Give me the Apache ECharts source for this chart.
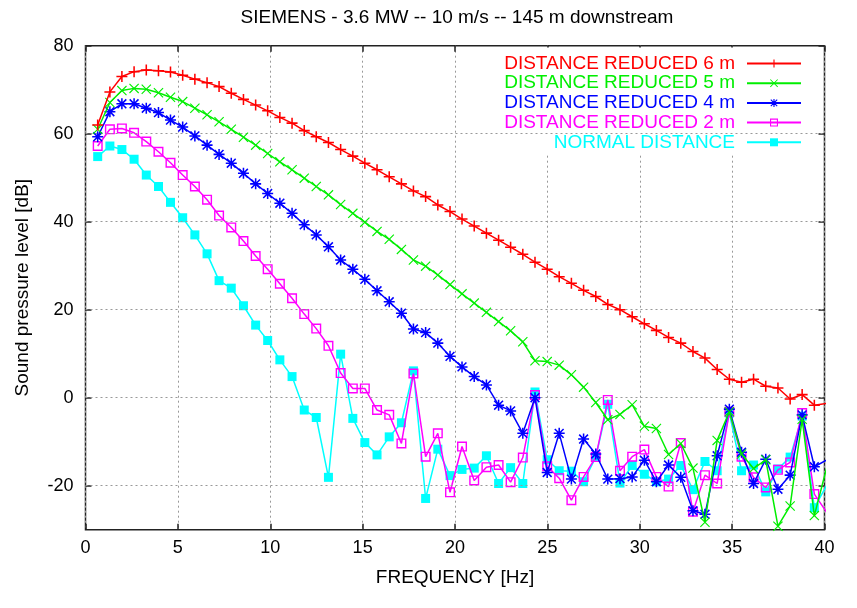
<!DOCTYPE html>
<html>
<head>
<meta charset="utf-8">
<script src="https://cdn.jsdelivr.net/npm/echarts@6/dist/echarts.min.js"></script>
<style>
html,body{margin:0;padding:0;background:#fff;}
#chart{width:857px;height:608px;}
</style>
</head>
<body>
<div id="chart"></div>
<script>
// Frequency bins [Hz]
const freq = [0.66,1.32,1.97,2.63,3.29,3.95,4.60,5.26,5.92,6.58,7.23,7.89,8.55,9.21,9.86,
  10.52,11.18,11.84,12.49,13.15,13.81,14.47,15.12,15.78,16.44,17.10,17.75,18.41,19.07,19.73,
  20.38,21.04,21.70,22.36,23.01,23.67,24.33,24.99,25.64,26.30,26.96,27.62,28.27,28.93,29.59,
  30.25,30.90,31.56,32.22,32.88,33.53,34.19,34.85,35.51,36.16,36.82,37.48,38.14,38.79,39.45,40.11];

const seriesNames = ['DISTANCE REDUCED 6 m','DISTANCE REDUCED 5 m','DISTANCE REDUCED 4 m','DISTANCE REDUCED 2 m','NORMAL DISTANCE'];

const reduced6m = [62.0,69.5,73.0,74.1,74.5,74.3,74.0,73.3,72.4,71.6,70.7,69.2,67.8,66.5,65.2,
  63.7,62.4,60.7,59.3,58.0,56.4,54.9,53.3,51.8,50.2,48.6,47.0,45.7,43.8,42.3,
  40.6,39.0,37.4,35.8,34.2,32.6,30.8,29.2,27.5,26.0,24.4,23.0,21.2,20.0,18.4,
  16.8,15.3,13.7,12.4,10.5,9.0,6.4,4.2,3.5,4.2,2.6,2.2,-0.3,0.7,-1.7,-1.3];

const reduced5m = [61.0,67.1,69.8,70.3,70.1,69.3,68.3,67.3,65.8,64.3,62.7,61.0,59.2,57.4,55.5,
  53.6,51.8,49.9,48.0,46.1,43.9,41.9,39.9,37.8,36.0,33.7,31.3,29.9,27.9,25.7,
  23.6,21.5,19.4,17.3,15.2,12.7,8.4,8.2,7.4,5.2,2.4,-1.1,-5.0,-3.8,-1.6,
  -6.5,-7.0,-12.9,-10.4,-16.0,-28.3,-9.7,-3.2,-12.8,-16.1,-14.1,-29.2,-24.6,-4.9,-26.8,-16.0];

const reduced4m = [59.3,65.0,66.8,66.8,65.8,64.8,63.1,61.5,59.5,57.4,55.3,53.3,51.0,48.6,46.4,
  44.2,41.9,39.3,37.0,34.3,31.3,29.2,26.9,24.3,21.8,19.2,15.6,14.8,12.4,9.4,
  7.0,4.8,2.9,-1.7,-3.0,-8.1,0.0,-17.0,-8.1,-18.5,-9.4,-12.8,-18.5,-18.4,-18.0,
  -14.2,-19.1,-15.3,-18.1,-25.7,-26.5,-13.2,-2.6,-12.4,-19.5,-14.0,-20.8,-17.6,-3.9,-15.7,-14.2];

const reduced2m = [57.2,61.0,61.2,60.2,58.2,55.9,53.4,50.6,48.0,45.0,41.4,38.7,35.6,32.2,29.2,
  25.9,22.6,19.0,15.7,11.8,5.6,2.1,2.1,-2.8,-3.9,-10.4,5.5,-13.4,-8.1,-21.5,
  -11.1,-18.8,-15.8,-15.3,-19.2,-13.6,0.6,-15.6,-18.3,-23.3,-18.0,-13.5,-0.5,-16.6,-13.4,
  -11.8,-18.0,-20.2,-10.3,-25.9,-17.6,-19.5,-3.2,-13.4,-18.1,-20.4,-16.4,-14.7,-3.5,-21.9,-26.0];

const normalDist = [54.8,57.2,56.4,54.2,50.6,48.0,44.4,40.9,37.0,32.7,26.6,24.9,20.9,16.5,13.0,
  8.6,4.8,-2.8,-4.5,-18.1,9.9,-4.7,-10.2,-13.0,-8.9,-5.7,6.1,-22.9,-11.7,-17.7,
  -16.3,-16.0,-13.2,-19.5,-15.9,-19.5,1.3,-14.1,-16.6,-16.7,-19.1,-13.5,-1.5,-19.4,-15.4,
  -17.4,-19.1,-18.5,-15.4,-20.9,-14.5,-16.6,-3.5,-16.6,-15.3,-21.4,-16.2,-13.5,-4.2,-25.0,-20.0];

const xTicks = [0,5,10,15,20,25,30,35,40];
const yTicks = [-20,0,20,40,60,80];
const yGrid = [-20,0,20,40,60];

const colors = ['#ff0000','#00ee00','#0000ff','#ff00ff','#00ffff'];
const allValues = [reduced6m, reduced5m, reduced4m, reduced2m, normalDist];

const SYM_PLUS = 'path://M4.3,0H5.7V4.3H10V5.7H5.7V10H4.3V5.7H0V4.3H4.3Z';
const SYM_X = 'path://M0,0.8L0.8,0L10,9.2L9.2,10Z M0,9.2L9.2,0L10,0.8L0.8,10Z';
const SYM_STAR = 'path://M4.3,0H5.7V4.3H10V5.7H5.7V10H4.3V5.7H0V4.3H4.3Z M0.5,1.5L1.5,0.5L9.5,8.5L8.5,9.5Z M0.5,8.5L8.5,0.5L9.5,1.5L1.5,9.5Z';
const SYM_OSQ = 'path://M0,0H10V10H0Z M1.4,1.4V8.6H8.6V1.4Z';
const symbols = [SYM_PLUS, SYM_X, SYM_STAR, SYM_OSQ, 'rect'];
const symSizes = [11, 10, 11, 10, 9];

const FONT = '"Liberation Sans", Arial, Helvetica, sans-serif';

const chart = echarts.init(document.getElementById('chart'), null, {renderer: 'canvas'});

const series = allValues.map((vals, i) => ({
  name: seriesNames[i],
  type: 'line',
  data: freq.map((f, k) => [f, vals[k]]),
  symbol: symbols[i],
  symbolSize: symSizes[i],
  showAllSymbol: true,
  clip: true,
  z: 3 + (4 - i),
  lineStyle: {color: colors[i], width: 1.5},
  itemStyle: {color: colors[i], borderWidth: 0},
  emphasis: {disabled: true}
}));

// dotted grid lines for y at 20 dB steps
series.push({
  name: '__grid',
  type: 'line',
  data: [],
  silent: true,
  z: 1,
  markLine: {
    silent: true,
    symbol: ['none', 'none'],
    label: {show: false},
    lineStyle: {type: [2, 3], color: '#999', width: 1},
    data: yGrid.map(v => ({yAxis: v})),
    animation: false
  }
});

const yAxisBase = {
  type: 'value', min: -30, max: 80, interval: 10,
  axisLine: {show: false, onZero: false},
  splitLine: {show: false},
  axisTick: {show: true, inside: true, length: 6, customValues: yTicks, lineStyle: {color: '#222', width: 1.5}},
};

const xAxisBase = {
  type: 'value', min: 0, max: 40, interval: 5,
  axisLine: {show: false, onZero: false},
  axisTick: {show: true, inside: true, length: 6, lineStyle: {color: '#222', width: 1.5}},
};

chart.setOption({
  animation: false,
  backgroundColor: '#fff',
  textStyle: {fontFamily: FONT},
  title: {
    text: 'SIEMENS - 3.6 MW -- 10 m/s -- 145 m downstream',
    left: 452, top: 3, textAlign: 'center',
    textStyle: {fontFamily: FONT, fontSize: 19, fontWeight: 'normal', color: '#000', lineHeight: 19}
  },
  grid: {
    left: 85.5, right: 32.5, top: 45.7, bottom: 78.3,
    show: true, borderColor: '#222', borderWidth: 1.5, backgroundColor: 'transparent'
  },
  legend: {
    data: seriesNames.map((n, i) => ({name: n, textStyle: {color: colors[i]}})),
    orient: 'vertical',
    align: 'right',
    right: 43, top: 47.5,
    padding: [6.5, 12, 2, 4],
    itemGap: 0.7,
    itemWidth: 54, itemHeight: 10,
    backgroundColor: '#fff',
    selectedMode: false,
    textStyle: {fontFamily: FONT, fontSize: 19, lineHeight: 18, padding: [0, 7, 0, 0]}
  },
  xAxis: [
    Object.assign({}, xAxisBase, {
      position: 'bottom',
      name: 'FREQUENCY [Hz]', nameLocation: 'middle', nameGap: 39,
      nameTextStyle: {fontFamily: FONT, fontSize: 19, color: '#000'},
      axisLabel: {show: true, margin: 9, fontFamily: FONT, fontSize: 18, color: '#000'},
      splitLine: {show: true, lineStyle: {type: [2, 3], color: '#999', width: 1}}
    }),
    Object.assign({}, xAxisBase, {
      position: 'top',
      axisLabel: {show: false},
      splitLine: {show: false}
    })
  ],
  yAxis: [
    Object.assign({}, yAxisBase, {
      position: 'left',
      name: 'Sound pressure level [dB]', nameLocation: 'middle', nameGap: 53,
      nameTextStyle: {fontFamily: FONT, fontSize: 19, color: '#000'},
      axisLabel: {
        show: true, margin: 12, fontFamily: FONT, fontSize: 18, color: '#000',
        customValues: yTicks,
        formatter: v => (v % 20 === 0 ? String(v) : '')
      }
    }),
    Object.assign({}, yAxisBase, {
      position: 'right',
      axisLabel: {show: false}
    })
  ],
  series: series
});
</script>
</body>
</html>
